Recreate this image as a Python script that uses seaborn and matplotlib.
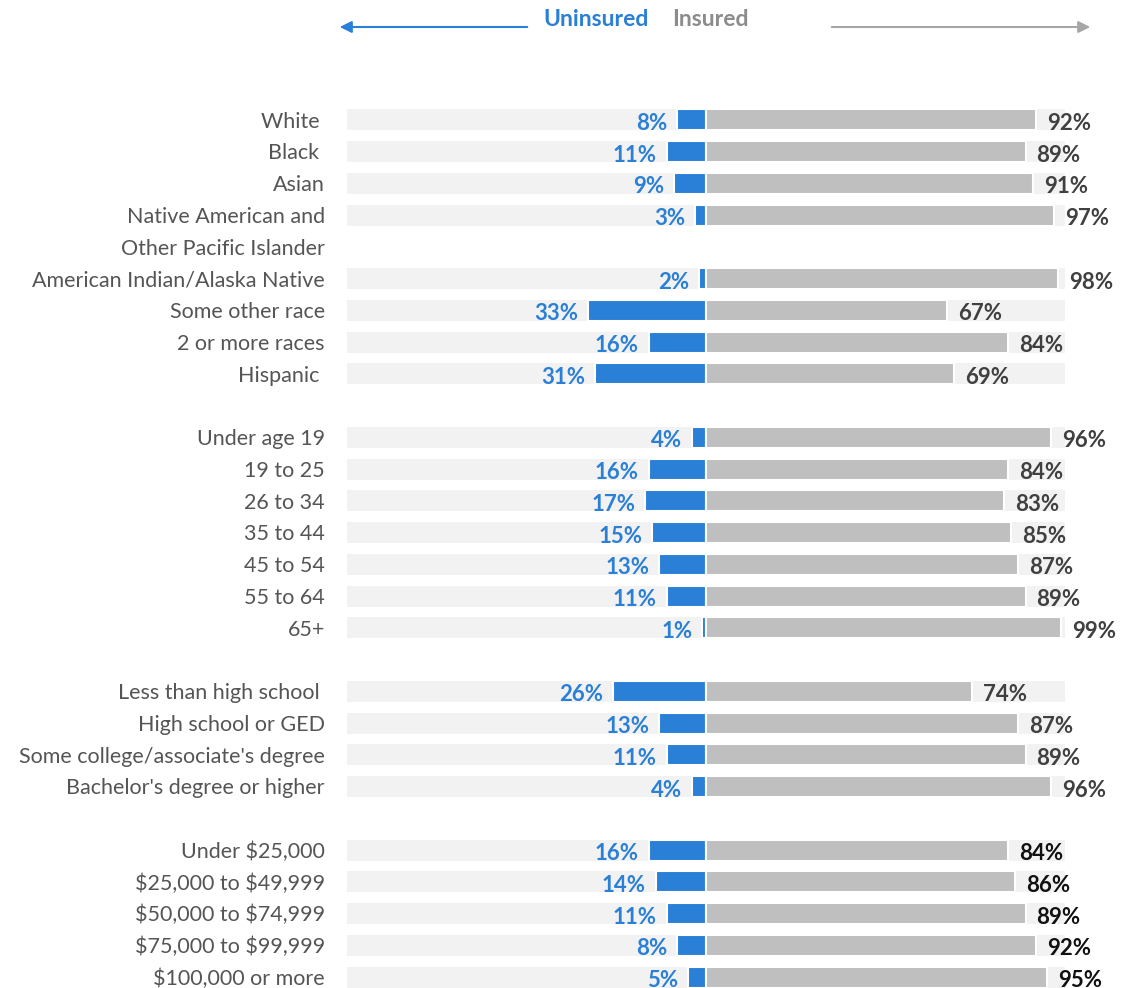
import matplotlib
matplotlib.use("Agg")
import matplotlib.pyplot as plt
import seaborn as sns
import pandas as pd

# ---------------- data ----------------
race_labels = ["White ", "Black ", "Asian", "Native American and\nOther Pacific Islander",
               "American Indian/Alaska Native", "Some other race", "2 or more races", "Hispanic "]
race_uninsured = [8, 11, 9, 3, 2, 33, 16, 31]
race_insured = [92, 89, 91, 97, 98, 67, 84, 69]

age_labels = ["Under age 19", "19 to 25", "26 to 34", "35 to 44", "45 to 54", "55 to 64", "65+"]
age_uninsured = [4, 16, 17, 15, 13, 11, 1]
age_insured = [96, 84, 83, 85, 87, 89, 99]

edu_labels = ["Less than high school ", "High school or GED", "Some college/associate's degree",
              "Bachelor's degree or higher"]
edu_uninsured = [26, 13, 11, 4]
edu_insured = [74, 87, 89, 96]

inc_labels = ["Under $25,000", "$25,000 to $49,999", "$50,000 to $74,999",
              "$75,000 to $99,999", "$100,000 or more"]
inc_uninsured = [16, 14, 11, 8, 5]
inc_insured = [84, 86, 89, 92, 95]

header_left = "Uninsured"
header_right = "Insured"

# ---------------- build table ----------------
groups = [
    (race_labels, race_uninsured, race_insured, "#404040"),
    (age_labels, age_uninsured, age_insured, "#404040"),
    (edu_labels, edu_uninsured, edu_insured, "#404040"),
    (inc_labels, inc_uninsured, inc_insured, "#111111"),
]
rows = []
order = []
gap_i = 0
for gi, (labs, un, ins, lc) in enumerate(groups):
    if gi > 0:
        order.append(f"_gap{gap_i}")
        gap_i += 1
    for lab, u, i in zip(labs, un, ins):
        order.append(lab)
        rows.append(dict(label=lab, un=-u, ins=i, full_l=-100, full_r=100, lc=lc))
        if "\n" in lab:  # second label line occupies the next slot
            order.append(f"_gap{gap_i}")
            gap_i += 1
df = pd.DataFrame(rows)
slot = {c: k for k, c in enumerate(order)}

BLUE = "#2a7fd6"
GRAY = "#bfbfbf"
BG = "#f2f2f2"

sns.set_theme(style="white")
plt.rcParams["font.family"] = ["Lato", "DejaVu Sans"]
plt.rcParams["text.parse_math"] = False

fig = plt.figure(figsize=(11.23, 9.88), dpi=100)
ax = fig.add_axes([347 / 1123, 0, 718 / 1123, (988 - 104.1) / 988])

W = 0.66
sns.barplot(data=df, x="full_l", y="label", order=order, color=BG, width=W,
            orient="h", ax=ax, linewidth=0, saturation=1)
sns.barplot(data=df, x="full_r", y="label", order=order, color=BG, width=W,
            orient="h", ax=ax, linewidth=0, saturation=1)
sns.barplot(data=df, x="un", y="label", order=order, color=BLUE, width=W,
            orient="h", ax=ax, linewidth=1.5, edgecolor="white", saturation=1)
sns.barplot(data=df, x="ins", y="label", order=order, color=GRAY, width=W,
            orient="h", ax=ax, linewidth=1.5, edgecolor="white", saturation=1)

ax.set_xlim(-100, 100)
ax.set_ylim(27.34, -0.5)
ax.set_xlabel("")
ax.set_ylabel("")
ax.set_xticks([])
ax.set_yticks([])
for s in ax.spines.values():
    s.set_visible(False)
ax.patch.set_alpha(0)

FS = 15.5
VFS = 16
for _, r in df.iterrows():
    y = slot[r["label"]]
    for k, line in enumerate(r["label"].split("\n")):
        ax.annotate(line, xy=(-100, y + k), xytext=(-16, -1.2), textcoords="offset points",
                    ha="right", va="center", fontsize=FS, color="#555555",
                    annotation_clip=False)
    ax.annotate(f"{-r['un']}%", xy=(r["un"], y), xytext=(-7, -2.5), textcoords="offset points",
                ha="right", va="center", fontsize=VFS, fontweight="bold", color=BLUE,
                annotation_clip=False)
    ax.annotate(f"{r['ins']}%", xy=(r["ins"], y), xytext=(8, -2.5), textcoords="offset points",
                ha="left", va="center", fontsize=VFS, fontweight="bold", color=r["lc"],
                annotation_clip=False)

# ---------------- header ----------------
H = 988.0
def fy(py):
    return 1 - py / H

fig.text(543 / 1123, fy(20), header_left, ha="left", va="center", fontsize=16.5,
         fontweight="bold", color=BLUE)
fig.text(672 / 1123, fy(20), header_right, ha="left", va="center", fontsize=16.5,
         fontweight="bold", color="#8c8c8c")
fig.add_artist(matplotlib.patches.FancyArrowPatch(
    (530 / 1123, fy(27)), (337 / 1123, fy(27)), transform=fig.transFigure,
    arrowstyle="-|>,head_length=7,head_width=3.5", color=BLUE, linewidth=1.5,
    mutation_scale=1))
fig.add_artist(matplotlib.patches.FancyArrowPatch(
    (829 / 1123, fy(27)), (1093 / 1123, fy(27)), transform=fig.transFigure,
    arrowstyle="-|>,head_length=7,head_width=3.5", color="#a6a6a6", linewidth=1.5,
    mutation_scale=1))

fig.savefig("out.png", dpi=100, facecolor="white")
